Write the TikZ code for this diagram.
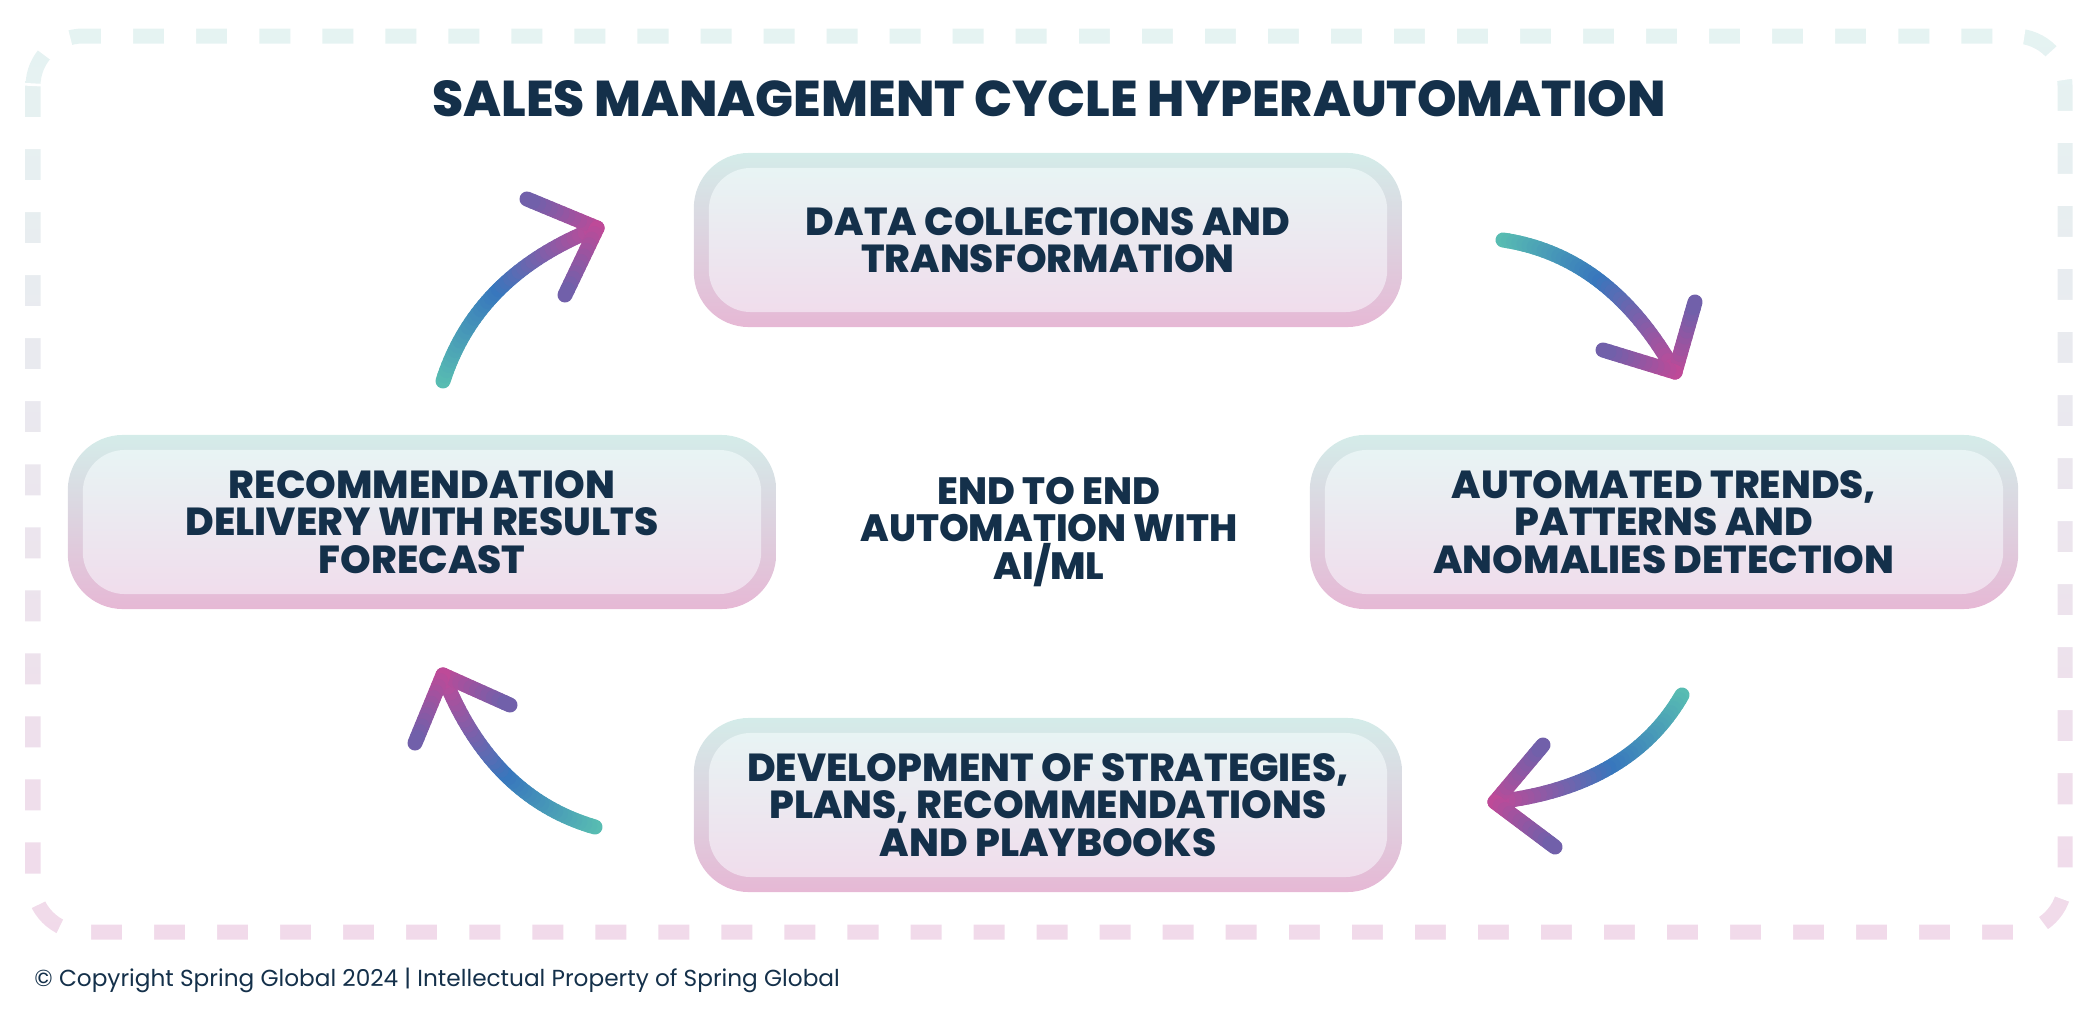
\documentclass[tikz,border=0pt]{standalone}
\usepackage{fontspec}
\setmainfont{Poppins}[BoldFont={Poppins ExtraBold}]
\usepackage{xcolor}
\definecolor{navy}{HTML}{14304A}
\definecolor{boxtop}{HTML}{D4ECE9}
\definecolor{boxmid}{HTML}{B4CCE4}
\definecolor{boxbot}{HTML}{E6B8D5}
\definecolor{intop}{HTML}{E8F4F4}
\definecolor{inmid}{HTML}{D9E3EF}
\definecolor{inbot}{HTML}{F0DDEC}
\definecolor{bordtop}{HTML}{E5F3F2}
\definecolor{bordmid}{HTML}{D6E2F0}
\definecolor{bordbot}{HTML}{F1DAEA}
\definecolor{arrtail}{HTML}{58BCB2}
\definecolor{arrmid}{HTML}{3877BD}
\definecolor{arrhead}{HTML}{BE4A98}
\definecolor{armend}{HTML}{6A62AC}
\usepackage{tikz}
\usetikzlibrary{calc, positioning}
% shaft from #1 via #2 to tip #3, barbs to #4 and #5
\newcommand{\gradarrow}[5]{%
  \foreach \i in {0,...,39}{%
    \pgfmathsetmacro\ta{\i/40}%
    \pgfmathsetmacro\tb{(\i+1)/40}%
    \pgfmathsetmacro\pa{min(200*\ta,100)}%
    \pgfmathsetmacro\pb{max(200*\ta-100,0)}%
    \colorlet{segA}{arrmid!\pa!arrtail}%
    \colorlet{segB}{arrhead!\pb!segA}%
    \draw[arrowline, segB] ($($(#1)!\ta!(#2)$)!\ta!($(#2)!\ta!(#3)$)$) -- ($($(#1)!\tb!(#2)$)!\tb!($(#2)!\tb!(#3)$)$);
  }%
  \foreach \j in {#4,#5}{%
    \foreach \i in {0,...,11}{%
      \pgfmathsetmacro\ta{\i/12}%
      \pgfmathsetmacro\tb{(\i+1)/12}%
      \pgfmathsetmacro\pa{100*\ta}%
      \colorlet{segA}{armend!\pa!arrhead}%
      \draw[arrowline, segA] ($(#3)!\ta!(\j)$) -- ($(#3)!\tb!(\j)$);
    }%
  }%
}

\begin{document}
\begin{tikzpicture}[x=0.01cm, y=-0.01cm,
  outerbox/.style={rounded corners=0.55cm, minimum width=7.08cm, minimum height=1.74cm,
    top color=boxtop, middle color=boxmid, bottom color=boxbot},
  innerbox/.style={rounded corners=0.42cm, minimum width=6.78cm, minimum height=1.44cm,
    top color=intop, middle color=inmid, bottom color=inbot,
    text=navy, align=center, font=\bfseries\fontsize{11.1}{10.6}\selectfont},
  arrowline/.style={line width=0.15cm, line cap=round}]
  \useasboundingbox (0,0) rectangle (2100,1012);
  % dashed frame, shaded top to bottom
  \shade[even odd rule, top color=bordtop, middle color=bordmid, bottom color=bordbot]
    [rounded corners=0.575cm] (25.5,28.5) rectangle (2072.5,939.5)
    [rounded corners=0.425cm] (40.5,43.5) rectangle (2057.5,924.5);
  \draw[white, line width=0.24cm, dash pattern=on 0.32cm off 0.31cm, dash phase=0.32cm,
    rounded corners=0.5cm] (33,36) rectangle (2065,932);
  \node[text=navy, font=\bfseries\fontsize{14.3}{15}\selectfont] (title) at (1049,99)
    {SALES MANAGEMENT CYCLE HYPERAUTOMATION};
  % the four stages
  \node[outerbox] (data) at (1048,240) {};
  \node[innerbox] (data-in) at (data.center) {DATA COLLECTIONS AND\\TRANSFORMATION};
  \node[outerbox] (trends) at (1664,522) {};
  \node[innerbox] (trends-in) at (trends.center) {AUTOMATED TRENDS,\\PATTERNS AND\\ANOMALIES DETECTION};
  \node[outerbox] (plans) at (1048,805) {};
  \node[innerbox] (plans-in) at (plans.center) {DEVELOPMENT OF STRATEGIES,\\PLANS, RECOMMENDATIONS\\AND PLAYBOOKS};
  \node[outerbox] (recomm) at (422,522) {};
  \node[innerbox] (recomm-in) at (recomm.center) {RECOMMENDATION\\DELIVERY WITH RESULTS\\FORECAST};
  \node[text=navy, align=center, font=\bfseries\fontsize{10.8}{10.6}\selectfont] (core) at (1049,532)
    {END TO END\\AUTOMATION WITH\\AI/ML};
  % curved arrows between the stages
  \coordinate (a1s) at (1503,240); \coordinate (a1c) at (1610,256); \coordinate (a1e) at (1675,372);
  \coordinate (a1l) at (1695,302); \coordinate (a1r) at (1603,350);
  \coordinate (a2s) at (1682,695); \coordinate (a2c) at (1629,787); \coordinate (a2e) at (1495,802);
  \coordinate (a2l) at (1543,745); \coordinate (a2r) at (1555,847);
  \coordinate (a3s) at (595,827); \coordinate (a3c) at (491,797); \coordinate (a3e) at (443,675);
  \coordinate (a3l) at (510,705); \coordinate (a3r) at (415,743);
  \coordinate (a4s) at (443,381); \coordinate (a4c) at (477,275); \coordinate (a4e) at (597,228);
  \coordinate (a4l) at (527,199); \coordinate (a4r) at (565,295);
  \gradarrow{a1s}{a1c}{a1e}{a1l}{a1r}
  \gradarrow{a2s}{a2c}{a2e}{a2l}{a2r}
  \gradarrow{a3s}{a3c}{a3e}{a3l}{a3r}
  \gradarrow{a4s}{a4c}{a4e}{a4l}{a4r}
  \node[anchor=west, text=navy, font=\fontsize{6.6}{8}\selectfont] (footer) at (22,980)
    {© Copyright Spring Global 2024 | Intellectual Property of Spring Global};
\end{tikzpicture}
\end{document}
